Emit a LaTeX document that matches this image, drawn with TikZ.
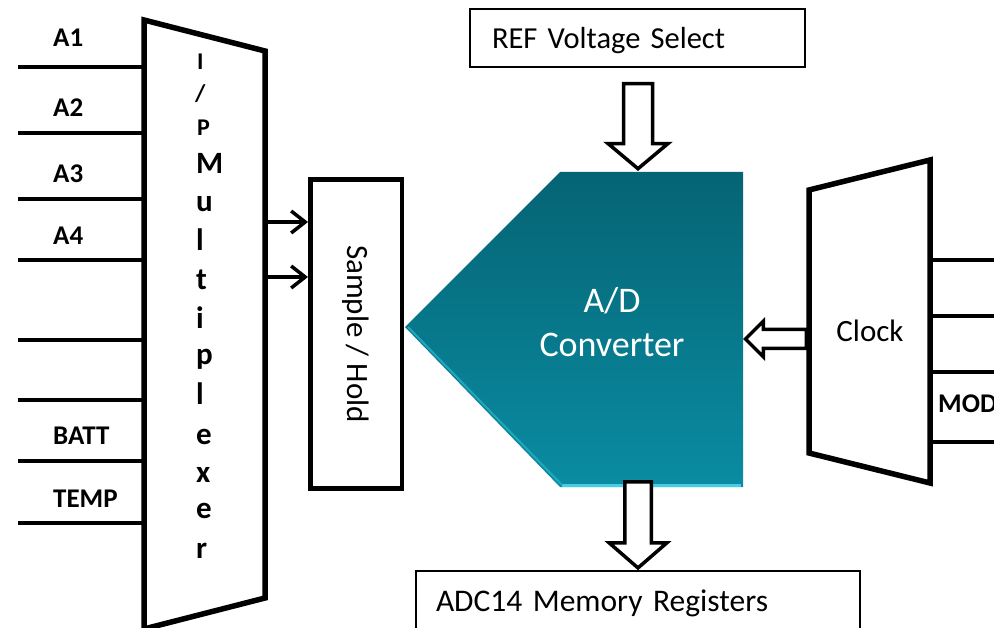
\documentclass[tikz,border=0pt]{standalone}
\usepackage{fontspec}
\setmainfont{Carlito}
\usetikzlibrary{arrows.meta,positioning,calc,shapes.arrows}

\definecolor{adctop}{RGB}{5,100,116}
\definecolor{adcbot}{RGB}{10,140,162}
\definecolor{adcedge}{RGB}{70,205,232}

\begin{document}
\begin{tikzpicture}[x=1pt,y=-1pt,
    wire/.style={line width=4.5pt},
    frame/.style={line width=5.5pt,line join=miter},
    pinlabel/.style={font=\fontsize{27}{32}\selectfont\bfseries,anchor=base west,inner sep=0pt},
    muxchar/.style={font=\fontsize{31}{36}\selectfont\bfseries,anchor=base west,inner sep=0pt},
    smallchar/.style={font=\fontsize{24}{28}\selectfont\bfseries,anchor=base west,inner sep=0pt},
    hollow/.style={single arrow,draw,line width=3.5pt,fill=white,inner xsep=0pt,anchor=tip,rotate=#1},
    textbox/.style={draw,line width=1.5pt,inner sep=0pt,text depth=0pt,align=left,font=\fontsize{30.5}{36}\selectfont}]

    \fill[white] (0,0) rectangle (994,628);
    \useasboundingbox (0,0) rectangle (994,628);

    % input multiplexer
    \coordinate (muxtl) at (144,20);
    \coordinate (muxtr) at (265,51);
    \coordinate (muxbr) at (265,598);
    \coordinate (muxbl) at (144,629);
    \draw[frame] (muxtl) -- (muxtr) -- (muxbr) -- (muxbl) -- cycle;
    \node[smallchar] (muxI) at (197,70) {I};
    \node[smallchar] (muxslash) at (195,102) {/};
    \node[smallchar] (muxP) at (197,136) {P};
    \foreach \ch/\yb [count=\k] in {M/174,u/212,l/251,t/290,i/329,p/365,l/405,e/445,x/482,e/518,r/558}
        \node[muxchar] (mux\k) at (196,\yb) {\ch};

    % analog inputs
    \foreach \y [count=\k] in {67,133,199,260,340,400,461,523} {
        \coordinate (in\k) at (18,\y);
        \draw[wire] (in\k) -- (in\k -| muxtl);
    }
    \foreach \lab/\y in {A1/47,A2/117,A3/183,A4/245,BATT/445,TEMP/507}
        \node[pinlabel] (\lab) at (53,\y) {\lab};

    % sample and hold
    \node[draw,line width=4.5pt,minimum width=91.5pt,minimum height=308.5pt,inner sep=0pt] (sh) at (356,334)
        {\rotatebox{-90}{\fontsize{31}{37}\selectfont Sample / Hold}};
    \coordinate (muxout1) at (265,222);
    \coordinate (muxout2) at (265,277);
    \draw[line width=3.5pt,-{Straight Barb[length=14pt,width=22pt]}] (muxout1) -- (sh.west |- muxout1);
    \draw[line width=3.5pt,-{Straight Barb[length=14pt,width=22pt]}] (muxout2) -- (sh.west |- muxout2);

    % converter
    \coordinate (adctip) at (405,327);
    \coordinate (adctl) at (560,172);
    \coordinate (adctr) at (743,172);
    \coordinate (adcbr) at (743,487);
    \coordinate (adcbl) at (560,487);
    \shade[top color=adctop,bottom color=adcbot] (adctip) -- (adctl) -- (adctr) -- (adcbr) -- (adcbl) -- cycle;
    \draw[adcedge,line width=2.5pt] ($(adcbl)+(2,-1.5)$) -- ($(adcbr)+(-2,-1.5)$);
    \draw[adcedge!40!adcbot,line width=2pt] ($(adctip)+(3,0)$) -- ($(adcbl)+(2,-2)$);
    \node[text=white,font=\fontsize{36}{44}\selectfont,align=center] (adc) at (612,322) {A/D\\Converter};
    \coordinate (adctop) at (638,171);
    \coordinate (adcright) at (743,339);

    % reference and memory
    \node[textbox,minimum width=335pt,minimum height=58pt,text width=291pt] (ref) at (637.5,38) {REF Voltage Select};
    \node[textbox,minimum width=444pt,minimum height=60pt,text width=404pt,font=\fontsize{31.5}{36}\selectfont] (mem) at (638,601) {ADC14 Memory Registers};
    \node[hollow=-90,inner ysep=12.75pt,minimum height=85pt,single arrow head extend=15.5pt,single arrow tip angle=100] (refarrow) at (adctop) {};
    \node[hollow=-90,inner ysep=11.5pt,minimum height=86pt,single arrow head extend=15.5pt,single arrow tip angle=98] (memarrow) at (mem.north) {};

    % clock select
    \coordinate (clktl) at (809,190);
    \coordinate (clktr) at (930,160);
    \coordinate (clkbr) at (930,483);
    \coordinate (clkbl) at (809,453);
    \draw[frame] (clktl) -- (clktr) -- (clkbr) -- (clkbl) -- cycle;
    \node[font=\fontsize{31}{37}\selectfont] (clk) at (870,331) {Clock};
    \foreach \y [count=\k] in {260,316,372,442} {
        \coordinate (clkin\k) at (1000,\y);
        \draw[wire] (clkin\k) -- (clkin\k -| clktr);
    }
    \node[pinlabel] (MOD) at (938,413) {MOD};
    \node[hollow=180,inner ysep=7.75pt,minimum height=61pt,single arrow head extend=8.5pt,single arrow tip angle=90] (clkarrow) at (adcright) {};
\end{tikzpicture}
\end{document}
